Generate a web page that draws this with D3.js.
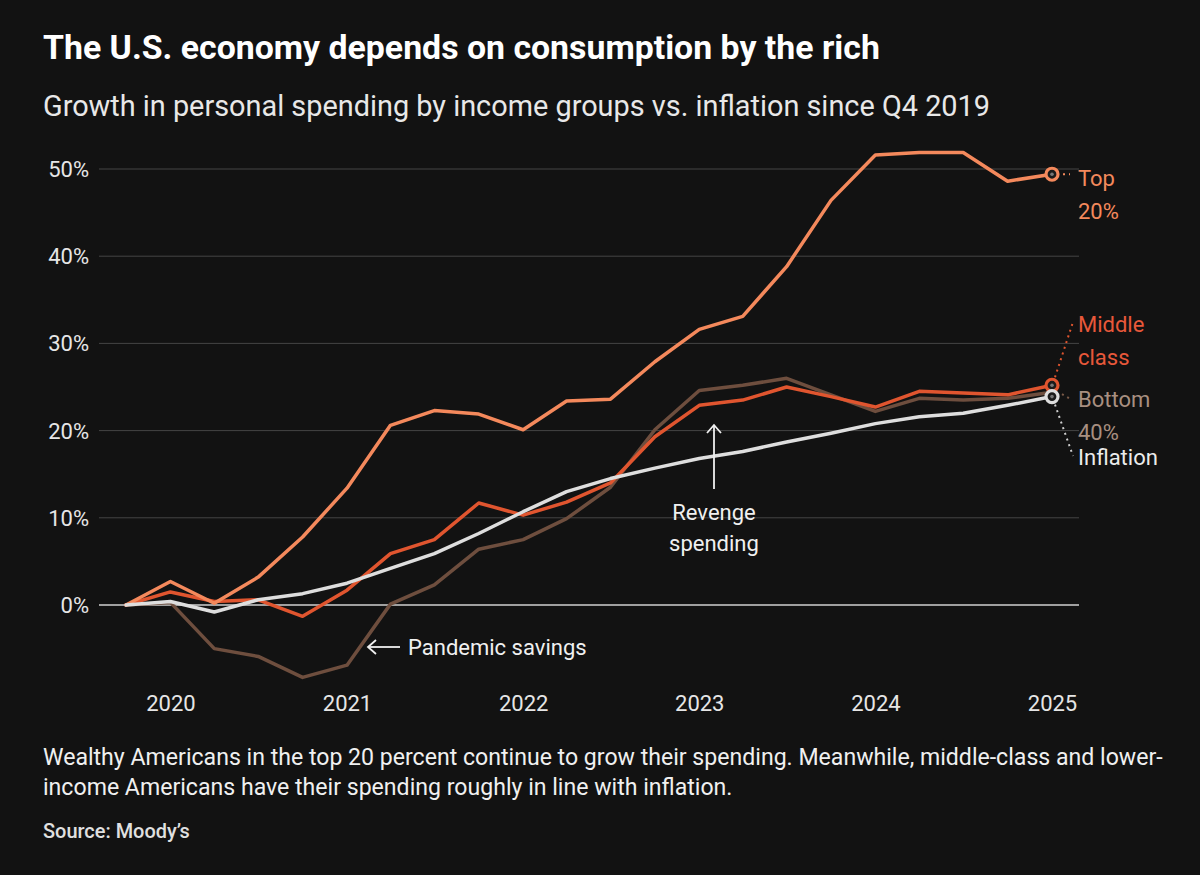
<!DOCTYPE html>
<html>
<head>
<meta charset="utf-8">
<script src="https://cdn.jsdelivr.net/npm/d3@7"></script>
<style>
  html, body { margin: 0; padding: 0; background: #121212; }
  svg { display: block; }
  text { font-family: Roboto, "Liberation Sans", Arial, sans-serif; }
</style>
</head>
<body>
<svg id="chart" width="1200" height="875"></svg>
<script>
// ---------- DATA ----------
const quarters = ["2019-10-01","2020-01-01","2020-04-01","2020-07-01","2020-10-01",
  "2021-01-01","2021-04-01","2021-07-01","2021-10-01","2022-01-01","2022-04-01",
  "2022-07-01","2022-10-01","2023-01-01","2023-04-01","2023-07-01","2023-10-01",
  "2024-01-01","2024-04-01","2024-07-01","2024-10-01","2025-01-01"];
const top20 =    [0, 2.7, 0.2, 3.2, 7.8, 13.4, 20.6, 22.3, 21.9, 20.1, 23.4, 23.6, 27.9, 31.6, 33.1, 38.8, 46.4, 51.6, 51.9, 51.9, 48.6, 49.4];
const middle =   [0, 1.5, 0.4, 0.6, -1.3, 1.7, 5.9, 7.5, 11.7, 10.3, 11.8, 14.0, 19.3, 22.9, 23.5, 25.0, 23.9, 22.7, 24.5, 24.3, 24.1, 25.2];
const bottom40 = [0, 0.3, -5.0, -5.9, -8.3, -6.9, 0.1, 2.3, 6.4, 7.5, 9.9, 13.5, 20.1, 24.6, 25.2, 26.0, 24.1, 22.2, 23.7, 23.5, 23.7, 24.4];
const inflation =[0, 0.4, -0.8, 0.6, 1.3, 2.5, 4.2, 5.9, 8.2, 10.7, 13.0, 14.5, 15.7, 16.8, 17.6, 18.7, 19.7, 20.8, 21.6, 22.0, 22.9, 23.9];
const yTicks = [0, 10, 20, 30, 40, 50];
const xTickYears = [2020, 2021, 2022, 2023, 2024, 2025];

const title = "The U.S. economy depends on consumption by the rich";
const subtitle = "Growth in personal spending by income groups vs. inflation since Q4 2019";
const note1 = "Wealthy Americans in the top 20 percent continue to grow their spending. Meanwhile, middle-class and lower-";
const note2 = "income Americans have their spending roughly in line with inflation.";
const source = "Source: Moody\u2019s";

// ---------- SETUP ----------
const svg = d3.select("#chart");
const dates = quarters.map(d => new Date(d + "T00:00:00Z"));
const x = d3.scaleUtc().domain([dates[0], dates[dates.length - 1]]).range([126, 1052]);
const y = d3.scaleLinear().domain([0, 50]).range([605, 169]);
const gridLeft = 99, gridRight = 1079;

function fit(sel, w) {
  const node = sel.node();
  const fs = parseFloat(sel.attr("font-size"));
  const cur = node.getComputedTextLength();
  if (cur > 0) sel.attr("font-size", (fs * w / cur).toFixed(2));
  return sel;
}

// Title / subtitle
fit(svg.append("text").attr("x", 43).attr("y", 59).attr("fill", "#ffffff")
  .attr("font-size", 26).attr("font-weight", 700).text(title), 837);
fit(svg.append("text").attr("x", 43).attr("y", 116).attr("fill", "#e8e8e8")
  .attr("font-size", 24).text(subtitle), 947);

// Gridlines
const grid = svg.append("g");
grid.selectAll("line").data(yTicks).join("line")
  .attr("x1", gridLeft).attr("x2", gridRight)
  .attr("y1", d => y(d)).attr("y2", d => y(d))
  .attr("stroke", d => d === 0 ? "#a0a0a0" : "#454545")
  .attr("stroke-width", d => d === 0 ? 2 : 1);

// Y axis labels
svg.append("g").selectAll("text").data(yTicks).join("text")
  .attr("x", 89).attr("y", d => y(d)).attr("dy", "0.36em")
  .attr("text-anchor", "end").attr("fill", "#e6e6e6").attr("font-size", 22)
  .text(d => d + "%");

// X axis labels
const xAxis = d3.axisBottom(x)
  .tickValues(xTickYears.map(yr => new Date(Date.UTC(yr, 0, 1))))
  .tickFormat(d3.utcFormat("%Y")).tickSize(0).tickPadding(0);
const xg = svg.append("g").attr("transform", "translate(0,695)").call(xAxis);
xg.select(".domain").remove();
xg.selectAll("text").attr("fill", "#e6e6e6").attr("font-size", 22)
  .attr("font-family", "Roboto, 'Liberation Sans', Arial, sans-serif");

// Lines
const line = d3.line().x((d, i) => x(dates[i])).y(d => y(d));
const series = [
  { key: "bottom", values: bottom40, color: "#6e4e3e" },
  { key: "middle", values: middle, color: "#e0552f" },
  { key: "top", values: top20, color: "#f4895c" },
  { key: "inflation", values: inflation, color: "#dedede" }
];
svg.append("g").selectAll("path").data(series).join("path")
  .attr("d", d => line(d.values)).attr("fill", "none")
  .attr("stroke", d => d.color).attr("stroke-width", 3.5)
  .attr("stroke-linejoin", "round").attr("stroke-linecap", "round");

// Leader lines (dotted)
const last = dates.length - 1;
const lx = x(dates[last]);
const leaders = svg.append("g").attr("stroke-dasharray", "2,4").attr("stroke-width", 2).attr("fill", "none");
leaders.append("line").attr("x1", lx + 11).attr("y1", y(top20[last])).attr("x2", lx + 18).attr("y2", y(top20[last])).attr("stroke", "#f4895c");
leaders.append("line").attr("x1", lx + 3).attr("y1", y(middle[last]) - 8).attr("x2", lx + 21).attr("y2", 322).attr("stroke", "#e0552f");
leaders.append("line").attr("x1", lx + 10).attr("y1", y(bottom40[last]) + 2).attr("x2", lx + 20).attr("y2", 400).attr("stroke", "#7a5a48");
leaders.append("line").attr("x1", lx + 3).attr("y1", y(inflation[last]) + 8).attr("x2", lx + 21).attr("y2", 456).attr("stroke", "#cfcfcf");

// End markers
const markers = [
  { v: top20[last], color: "#f4895c" },
  { v: middle[last], color: "#e0552f" },
  { v: inflation[last], color: "#dedede" }
];
const mg = svg.append("g");
markers.forEach(m => {
  mg.append("circle").attr("cx", lx).attr("cy", y(m.v)).attr("r", 6)
    .attr("fill", "#1a1a1a").attr("stroke", m.color).attr("stroke-width", 3.2);
  mg.append("circle").attr("cx", lx).attr("cy", y(m.v)).attr("r", 1.8).attr("fill", "#777");
});

// Series labels
const labels = [
  { lines: ["Top", "20%"], y0: 186, color: "#f4895c" },
  { lines: ["Middle", "class"], y0: 332, color: "#e8583a" },
  { lines: ["Bottom", "40%"], y0: 407, color: "#a88f80" },
  { lines: ["Inflation"], y0: 465, color: "#ececec" }
];
labels.forEach(l => {
  const t = svg.append("text").attr("x", 1078).attr("y", l.y0)
    .attr("fill", l.color).attr("font-size", 22);
  l.lines.forEach((s, i) => t.append("tspan").attr("x", 1078).attr("dy", i === 0 ? 0 : 32.5).text(s));
});

// Annotations
const ann = svg.append("g").attr("fill", "#f0f0f0").attr("font-size", 22);
ann.append("text").attr("x", 714).attr("y", 520).attr("text-anchor", "middle").text("Revenge");
ann.append("text").attr("x", 714).attr("y", 551).attr("text-anchor", "middle").text("spending");
const arrows = svg.append("g").attr("stroke", "#f0f0f0").attr("stroke-width", 1.8).attr("fill", "none");
arrows.append("line").attr("x1", 714).attr("y1", 489).attr("x2", 714).attr("y2", 425);
arrows.append("path").attr("d", "M707,433 L714,425 L721,433");
ann.append("text").attr("x", 408).attr("y", 655).text("Pandemic savings");
arrows.append("line").attr("x1", 400).attr("y1", 647).attr("x2", 368).attr("y2", 647);
arrows.append("path").attr("d", "M376,640 L368,647 L376,654");

// Footnotes
const n1 = fit(svg.append("text").attr("x", 43).attr("y", 765).attr("fill", "#f0f0f0").attr("font-size", 18).text(note1), 1120);
svg.append("text").attr("x", 43).attr("y", 795).attr("fill", "#f0f0f0").attr("font-size", n1.attr("font-size")).text(note2);
fit(svg.append("text").attr("x", 43).attr("y", 838).attr("fill", "#e0e0e0").attr("font-size", 16).attr("font-weight", 500).text(source), 147);
</script>
</body>
</html>
